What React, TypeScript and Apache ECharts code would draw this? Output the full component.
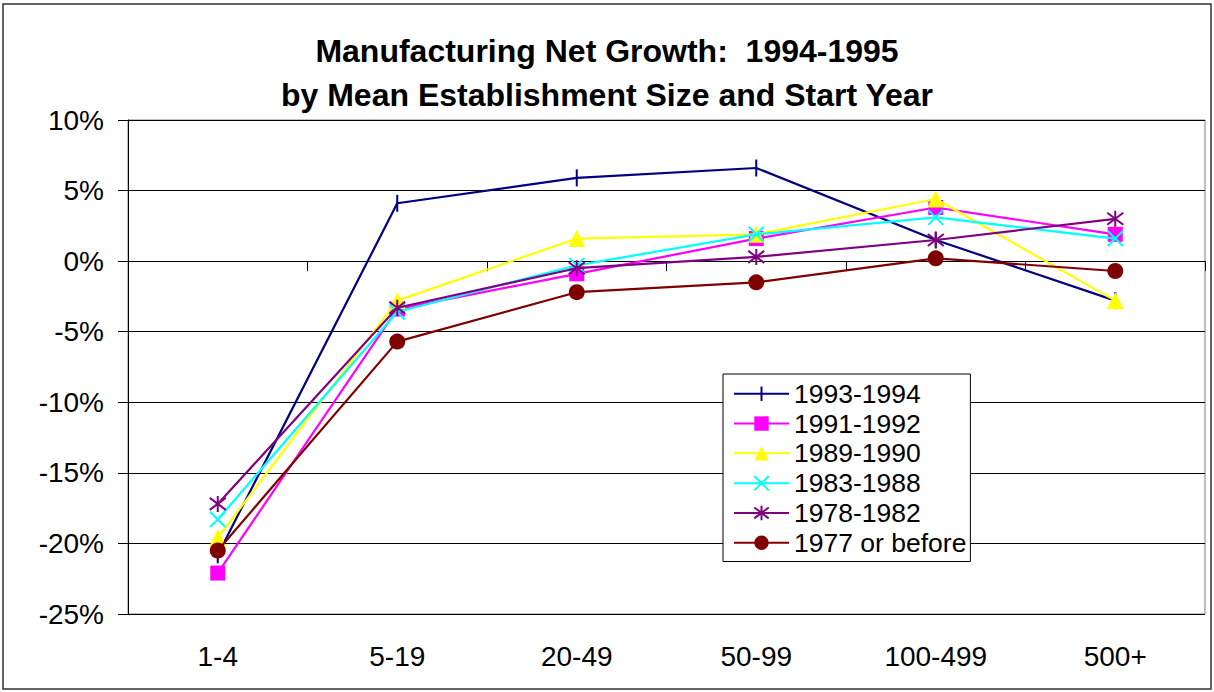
import React, { useEffect, useRef } from "react";
import * as echarts from "echarts";

const categories = ["1-4", "5-19", "20-49", "50-99", "100-499", "500+"];
const seriesNames = ["1993-1994", "1991-1992", "1989-1990", "1983-1988", "1978-1982", "1977 or before"];
const s1993 = [-20.8, 4.1, 5.9, 6.6, 1.5, -2.8];
const s1991 = [-22.1, -3.4, -0.9, 1.6, 3.8, 1.9];
const s1989 = [-19.6, -2.8, 1.6, 1.9, 4.4, -2.8];
const s1983 = [-18.3, -3.6, -0.3, 1.9, 3.1, 1.6];
const s1978 = [-17.2, -3.3, -0.5, 0.3, 1.5, 3.0];
const s1977 = [-20.5, -5.7, -2.2, -1.5, 0.2, -0.7];
const yTicks = { min: -25, max: 10, interval: 5 };

const FONT = "'Liberation Sans', Arial, sans-serif";

const VBAR = "path://M0,0M10,0M5,0V10";
const XMARK = "path://M0,0L10,10M10,0L0,10";
const STAR = "path://M0.5,0.5L9.5,9.5M9.5,0.5L0.5,9.5M5,-1V11";

export default function App() {
  const ref = useRef<HTMLDivElement>(null);
  useEffect(() => {
    if (!ref.current) return;
    const chart = echarts.init(ref.current, null, { renderer: "svg" });
    const values = [s1993, s1991, s1989, s1983, s1978, s1977];
    const colors = ["#000080", "#FF00FF", "#FFFF00", "#00FFFF", "#800080", "#800000"];
    const symbols = [VBAR, "rect", "triangle", XMARK, STAR, "circle"];
    const sizes = [17, 15, 17, 15, 16, 16];
    const borders = [2, 0, 0, 2, 2, 0];
    const series = values.map((d, i) => ({
      name: seriesNames[i],
      type: "line",
      data: d,
      symbol: symbols[i],
      symbolSize: sizes[i],
      showAllSymbol: true,
      lineStyle: { color: colors[i], width: 2.2 },
      itemStyle: { color: colors[i], borderColor: colors[i], borderWidth: borders[i] },
      emphasis: { disabled: true },
      z: 2 + i,
    }));
    chart.setOption({
      animation: false,
      backgroundColor: "#ffffff",
      textStyle: { fontFamily: FONT },
      title: {
        text: "Manufacturing Net Growth:  1994-1995\nby Mean Establishment Size and Start Year",
        left: "center",
        top: 29,
        padding: 0,
        textStyle: { fontFamily: FONT, fontSize: 32, fontWeight: "bold", color: "#000", lineHeight: 44 },
      },
      grid: { left: 128, right: 9, top: 120, bottom: 78, show: true, borderColor: "#808080", borderWidth: 1, backgroundColor: "transparent" },
      legend: {
        orient: "vertical",
        left: 723,
        top: 374,
        padding: [5, 4, 4, 10],
        itemWidth: 55,
        itemHeight: 18,
        itemGap: 0.3,
        backgroundColor: "#ffffff",
        borderColor: "#000000",
        borderWidth: 1,
        borderRadius: 0,
        textStyle: { fontFamily: FONT, fontSize: 26.5, color: "#000", lineHeight: 29.5 },
        data: seriesNames,
        selectedMode: false,
      },
      xAxis: {
        type: "category",
        data: categories,
        boundaryGap: true,
        axisLine: { show: true, lineStyle: { color: "#000", width: 1 } },
        axisTick: { show: true, length: 10, inside: false, alignWithLabel: false, lineStyle: { color: "#000" } },
        axisLabel: { fontFamily: FONT, fontSize: 28, color: "#000", margin: 28 },
        splitLine: { show: false },
      },
      yAxis: {
        type: "value",
        min: yTicks.min,
        max: yTicks.max,
        interval: yTicks.interval,
        axisLine: { show: true, lineStyle: { color: "#000", width: 1 } },
        axisTick: { show: true, length: 10, lineStyle: { color: "#000" } },
        axisLabel: { fontFamily: FONT, fontSize: 28, color: "#000", margin: 24, formatter: (v: number) => `${v}%` },
        splitLine: { show: true, lineStyle: { color: "#000", width: 1 } },
      },
      graphic: [
        {
          type: "rect",
          shape: { x: 3, y: 4, width: 1208, height: 685 },
          style: { fill: "none", stroke: "#333333", lineWidth: 1.5 },
          silent: true,
          z: 0,
        },
      ],
      series,
    });
    return () => chart.dispose();
  }, []);
  return <div ref={ref} style={{ position: "fixed", left: 0, top: 0, width: 1214, height: 692 }} />;
}
